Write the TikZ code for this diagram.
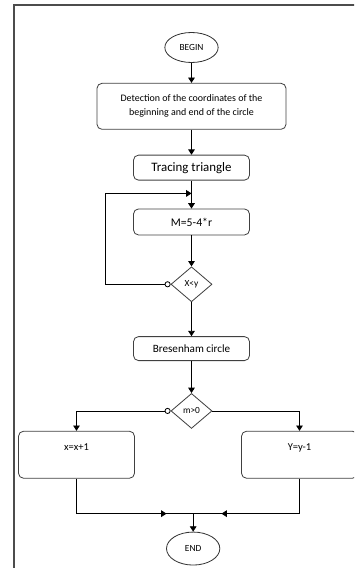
\documentclass[tikz,border=0pt]{standalone}
\usepackage{fontspec}
\setmainfont{Carlito}
\usetikzlibrary{arrows.meta, positioning, shapes.geometric, calc}

\begin{document}
\begin{tikzpicture}[
      terminal/.style={
        draw=black!80,
        ellipse,
        line width=0.7pt,
        minimum width=16mm,
        minimum height=9mm,
        inner sep=0pt,
        font=\fontsize{8}{9}\selectfont
      },
      process/.style={
        draw=black!75,
        rounded corners=1.5mm,
        line width=0.7pt,
        align=center,
        minimum width=34.8mm,
        minimum height=7.5mm,
        inner sep=0pt
      },
      decision/.style={
        draw=black!75,
        diamond,
        line width=0.7pt,
        minimum width=12.3mm,
        minimum height=10.5mm,
        inner sep=0pt,
        font=\fontsize{8}{9}\selectfont
      },
      flow/.style={-{Triangle[length=1.6mm, width=2mm]}, line width=0.7pt},
      tested/.style={{Circle[open, length=1.8mm, width=1.8mm]}-{Triangle[length=1.6mm, width=2mm]}, line width=0.7pt},
      frame/.style={draw=black!70, line width=0.9pt}
    ]
    \useasboundingbox (-57.45mm,14.25mm) rectangle (48.75mm,-156.15mm);
    \clip (-57.45mm,14.25mm) rectangle (48.75mm,-156.15mm);
    \draw[frame] (-53.25mm,-160mm) -- (-53.25mm,12.75mm) -- (52mm,12.75mm);

    \node[terminal] (begin) at (0,0) {BEGIN};
    \node[process, below=6mm of begin, minimum width=56.7mm, minimum height=13.8mm,
      font=\fontsize{8.5}{12}\selectfont] (detect) {
      Detection of the coordinates of the\\
      beginning and end of the circle
    };
    \node[process, below=7.5mm of detect, font=\fontsize{11}{13}\selectfont] (trace) {Tracing triangle};
    \node[process, below=8.4mm of trace, minimum height=7.8mm,
      font=\fontsize{10}{12}\selectfont] (mcalc) {M=5-4*r};
    \node[decision, below=9.3mm of mcalc] (xlty) {X<y};
    \node[process, below=10.2mm of xlty, minimum height=7.2mm,
      font=\fontsize{9.5}{11}\selectfont] (bres) {Bresenham circle};
    \node[decision, below=9.6mm of bres] (mpos) {m>0};
    \node[process, below=0.6mm of mpos, xshift=-34.5mm, minimum height=14.1mm,
      text depth=4.8mm, font=\fontsize{9}{11}\selectfont] (incx) {x=x+1};
    \node[process, below=0.6mm of mpos, xshift=32.4mm, minimum height=14.1mm,
      text depth=4.8mm, font=\fontsize{9}{11}\selectfont] (decy) {Y=y-1};
    \coordinate (join) at ($(mpos |- incx.south)+(0.5mm,-10.5mm)$);
    \node[terminal, below=5.4mm of join, minimum height=9.9mm] (end) {END};

    \draw[flow] (begin) -- (detect);
    \draw[flow] (detect) -- (trace);
    \coordinate (loopin) at ($(trace.south)!0.46!(mcalc.north)$);
    \draw[flow] (trace) -- (mcalc);
    \draw[flow] (mcalc) -- (xlty);
    \draw[tested] (xlty.west) -- ++(-19.5mm,0) |- (loopin);
    \draw[flow] (xlty) -- (bres);
    \draw[flow] (bres) -- (mpos);
    \draw[tested] (mpos.west) -| (incx.north);
    \draw[flow] (mpos.east) -| (decy.north);
    \draw[flow] (incx.south) |- ([xshift=-8mm]join);
    \draw[line width=0.7pt] (incx.south |- join) -- (join);
    \draw[flow] (decy.south) |- ([xshift=8.5mm]join);
    \draw[line width=0.7pt] (decy.south |- join) -- (join);
    \draw[flow] (join) -- (end);
  \end{tikzpicture}
\end{document}
